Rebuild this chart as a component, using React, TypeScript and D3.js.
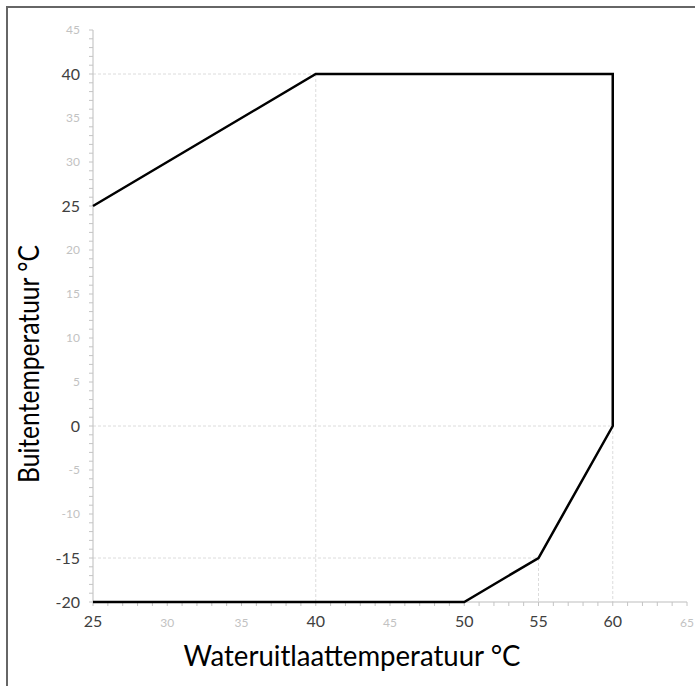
import React from 'react'
import * as d3 from 'd3'

// operating envelope (water outlet temp vs outdoor temp)
const envelopeX = [25, 40, 60, 60, 55, 50, 25]
const envelopeY = [25, 40, 40, 0, -15, -20, -20]

const xTicks = [25, 30, 35, 40, 45, 50, 55, 60, 65]
const yTicks = [45, 40, 35, 30, 25, 20, 15, 10, 5, 0, -5, -10, -15, -20]
// labels drawn dark, the rest are faded
const xStrong = [25, 40, 50, 55, 60]
const yStrong = [40, 25, 0, -15, -20]

const xTitle = 'Wateruitlaattemperatuur °C'
const yTitle = 'Buitentemperatuur °C'

const W = 695
const H = 686

const App = () => {
  const x = d3.scaleLinear().domain([25, 65]).range([93, 687])
  const y = d3.scaleLinear().domain([-20, 45]).range([602, 30])

  const points: [number, number][] = envelopeX.map((v, i) => [v, envelopeY[i]])
  const line = d3
    .line<[number, number]>()
    .x((d) => x(d[0]))
    .y((d) => y(d[1]))

  const minorX = d3.range(25, 66, 1)
  const minorY = d3.range(-20, 46, 1)

  // faint dashed guides through the corner points
  const guides = [
    { x1: 25, y1: 40, x2: 40, y2: 40 },
    { x1: 40, y1: 40, x2: 40, y2: -20 },
    { x1: 25, y1: 0, x2: 60, y2: 0 },
    { x1: 25, y1: -15, x2: 55, y2: -15 },
    { x1: 55, y1: -15, x2: 55, y2: -20 },
    { x1: 60, y1: 0, x2: 60, y2: -20 },
  ]

  return (
    <svg
      width={W}
      height={H}
      style={{ position: 'absolute', left: 0, top: 0, background: '#fff' }}
      fontFamily="Lato, 'Open Sans', sans-serif"
    >
      <rect x={7} y={7} width={700} height={700} fill="none" stroke="#666" strokeWidth={2} />

      {guides.map((g, i) => (
        <line
          key={`g-${i}`}
          x1={x(g.x1)}
          y1={y(g.y1)}
          x2={x(g.x2)}
          y2={y(g.y2)}
          stroke="#dcdcdc"
          strokeWidth={1}
          strokeDasharray="3,2"
        />
      ))}

      {/* axes */}
      <line x1={x(25)} y1={y(45)} x2={x(25)} y2={y(-20)} stroke="#bdbdbd" strokeWidth={1} />
      <line x1={x(25)} y1={y(-20)} x2={x(65)} y2={y(-20)} stroke="#bdbdbd" strokeWidth={1} />
      {minorY.map((v) => (
        <line key={`ty-${v}`} x1={x(25) - 4} x2={x(25)} y1={y(v)} y2={y(v)} stroke="#c4c4c4" />
      ))}
      {minorX.map((v) => (
        <line key={`tx-${v}`} x1={x(v)} x2={x(v)} y1={y(-20)} y2={y(-20) + 4} stroke="#c4c4c4" />
      ))}

      {yTicks.map((v) => {
        const strong = yStrong.includes(v)
        return (
          <text
            key={`ly-${v}`}
            x={80}
            y={y(v)}
            dy="0.35em"
            textAnchor="end"
            fontSize={strong ? 16 : 12}
            fill={strong ? '#404040' : '#c2c2c2'}
          >
            {v}
          </text>
        )
      })}
      {xTicks.map((v) => {
        const strong = xStrong.includes(v)
        return (
          <text
            key={`lx-${v}`}
            x={x(v)}
            y={627}
            textAnchor="middle"
            fontSize={strong ? 16 : 12}
            fill={strong ? '#404040' : '#c2c2c2'}
          >
            {v}
          </text>
        )
      })}

      <path d={line(points) ?? ''} fill="none" stroke="#000" strokeWidth={2.5} strokeLinejoin="miter" />

      <text
        x={352}
        y={666}
        textAnchor="middle"
        fontSize={29}
        fill="#000"
        textLength={337}
        lengthAdjust="spacingAndGlyphs"
      >
        {xTitle}
      </text>
      <text
        transform={`translate(39 ${364}) rotate(-90)`}
        textAnchor="middle"
        fontSize={29}
        fill="#000"
        textLength={238}
        lengthAdjust="spacingAndGlyphs"
      >
        {yTitle}
      </text>
    </svg>
  )
}

export default App
